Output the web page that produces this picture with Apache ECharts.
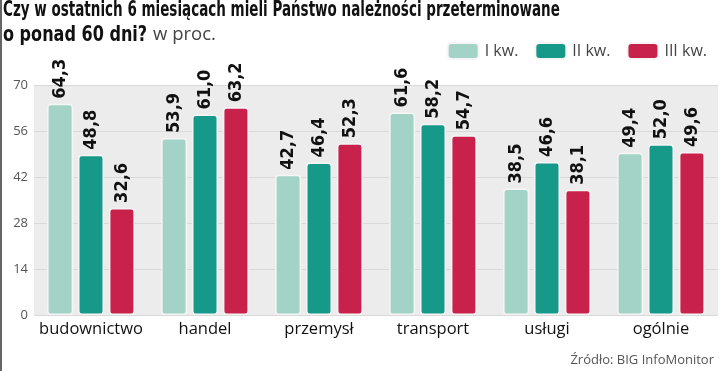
<!DOCTYPE html>
<html><head><meta charset="utf-8">
<script src="https://cdn.jsdelivr.net/npm/echarts@6/dist/echarts.min.js"></script>
<style>html,body{margin:0;padding:0;background:#fff}#c{width:720px;height:371px}</style>
</head><body><div id="c"></div>
<script>
var categories = ['budownictwo', 'handel', 'przemysł', 'transport', 'usługi', 'ogólnie'];
var seriesNames = ['I kw.', 'II kw.', 'III kw.'];
var q1 = [64.3, 53.9, 42.7, 61.6, 38.5, 49.4];
var q2 = [48.8, 61.0, 46.4, 58.2, 46.6, 52.0];
var q3 = [32.6, 63.2, 52.3, 54.7, 38.1, 49.6];
var colors = ['#a3d2c6', '#17998a', '#c8214b'];
var yTicks = [0, 14, 28, 42, 56, 70];
var titleLine1 = 'Czy w ostatnich 6 miesiącach mieli Państwo należności przeterminowane';
var titleLine2 = 'o ponad 60 dni?';
var titleUnit = 'w proc.';
var sourceText = 'Źródło: BIG InfoMonitor';

var cond = '"DejaVu Sans Condensed", "DejaVu Sans", sans-serif';
var plain = '"Open Sans", "Noto Sans", "DejaVu Sans", sans-serif';

function mk(name, data, color) {
  return {
    name: name, type: 'bar', data: data,
    barGap: '19%', barCategoryGap: '23%',
    itemStyle: { color: color, borderColor: '#f5f5f5', borderWidth: 1.5, borderRadius: 3 },
    label: {
      show: true, position: 'top', rotate: 90, align: 'left', verticalAlign: 'middle',
      distance: 5, color: '#111', fontFamily: cond, fontWeight: 'bold', fontSize: 18,
      formatter: function (p) { return p.value.toFixed(1).replace('.', ','); }
    }
  };
}

var chart = echarts.init(document.getElementById('c'), null, { renderer: 'canvas' });
chart.setOption({
  animation: false,
  legend: {
    right: 8, top: 37, itemWidth: 31, itemHeight: 16, itemGap: 16, icon: 'roundRect',
    textStyle: { fontFamily: plain, fontSize: 16, color: '#444', padding: [0, 0, 0, 1] },
    data: seriesNames
  },
  grid: { left: 34, right: 2, top: 85, bottom: 56, show: true, backgroundColor: '#ececec', borderWidth: 0 },
  xAxis: {
    type: 'category', data: categories,
    axisLine: { show: false }, axisTick: { show: false },
    axisLabel: { interval: 0, fontFamily: plain, fontSize: 16.5, color: '#111', margin: 6 }
  },
  yAxis: {
    type: 'value', min: yTicks[0], max: yTicks[yTicks.length - 1], interval: 14,
    axisLine: { show: false }, axisTick: { show: false },
    axisLabel: { fontFamily: plain, fontSize: 13, color: '#555', margin: 6 },
    splitLine: { lineStyle: { color: '#d9d9d9', width: 1 } }
  },
  graphic: [
    { type: 'line', shape: { x1: 1, y1: 0, x2: 1, y2: 371 }, style: { stroke: '#666', lineWidth: 2 } },
    { type: 'text', x: 3, y: 0, scaleX: 0.715, style: { text: titleLine1, font: 'bold 21px "DejaVu Sans Condensed", sans-serif', fill: '#111' } },
    { type: 'text', x: 3, y: 25, scaleX: 0.85, style: { text: titleLine2, font: 'bold 21px "DejaVu Sans Condensed", sans-serif', fill: '#111' } },
    { type: 'text', x: 153, y: 25, style: { text: titleUnit, font: '18.5px "Open Sans", sans-serif', fill: '#444' } },
    { type: 'text', right: 6, bottom: 4, style: { text: sourceText, font: '13px "Open Sans", sans-serif', fill: '#555' } }
  ],
  series: [mk(seriesNames[0], q1, colors[0]), mk(seriesNames[1], q2, colors[1]), mk(seriesNames[2], q3, colors[2])]
});
</script></body></html>
